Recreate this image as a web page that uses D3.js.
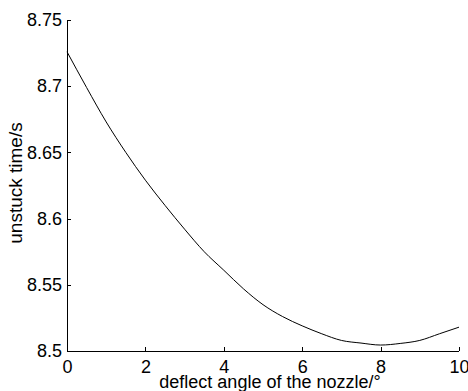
<!DOCTYPE html>
<html>
<head>
<meta charset="utf-8">
<script src="https://cdn.jsdelivr.net/npm/d3@7"></script>
<style>
  body { margin: 0; background: #fff; }
  svg { display: block; font-family: "Liberation Sans", Arial, sans-serif; }
</style>
</head>
<body>
<div id="chart"></div>
<script>
// deflect angle (deg) vs unstuck time (s)
const angles = [0, 0.5, 1, 1.5, 2, 2.5, 3, 3.5, 4, 4.5, 5, 5.5, 6, 6.5, 7, 7.5, 8, 8.5, 9, 9.5, 10];
const times = [8.726, 8.699, 8.673, 8.650, 8.629, 8.610, 8.592, 8.575, 8.561, 8.547, 8.535,
               8.526, 8.519, 8.513, 8.508, 8.506, 8.5045, 8.5057, 8.508, 8.513, 8.518];
const xTicks = [0, 2, 4, 6, 8, 10];
const yTicks = [8.5, 8.55, 8.6, 8.65, 8.7, 8.75];

const width = 468, height = 391;
const margin = {top: 20, right: 9, bottom: 40, left: 67};

const svg = d3.select("#chart").append("svg")
    .attr("width", width)
    .attr("height", height);

const x = d3.scaleLinear().domain([0, 10]).range([margin.left, width - margin.right]);
const y = d3.scaleLinear().domain([8.5, 8.75]).range([height - margin.bottom, margin.top]);

// y axis, ticks point inward
const yAxis = svg.append("g")
    .attr("transform", `translate(${margin.left},0)`)
    .call(d3.axisLeft(y).tickValues(yTicks).tickSize(-4).tickPadding(5)
        .tickFormat(d => d3.format("")(+d.toFixed(2))));
yAxis.select(".domain").attr("d", `M0,${y(8.5)}V${y(8.75)}`);
yAxis.selectAll("text").style("font-size", "18px").attr("fill", "#000");

// x axis
const xAxis = svg.append("g")
    .attr("transform", `translate(0,${height - margin.bottom})`)
    .call(d3.axisBottom(x).tickValues(xTicks).tickSize(-4).tickPadding(9));
xAxis.select(".domain").attr("d", `M${x(0)},0H${x(10)}`);
xAxis.selectAll("text").style("font-size", "18px").attr("fill", "#000");

svg.selectAll(".domain, .tick line")
    .attr("stroke", "#000")
    .attr("shape-rendering", "crispEdges");

const line = d3.line()
    .x((d, i) => x(angles[i]))
    .y(d => y(d))
    .curve(d3.curveMonotoneX);

svg.append("path")
    .datum(times)
    .attr("fill", "none")
    .attr("stroke", "#000")
    .attr("stroke-width", 1)
    .attr("d", line);

// axis titles
svg.append("text")
    .attr("x", 270)
    .attr("y", 388)
    .attr("text-anchor", "middle")
    .style("font-size", "18px")
    .text("deflect angle of the nozzle/°");

svg.append("text")
    .attr("transform", "translate(22,183) rotate(-90)")
    .attr("text-anchor", "middle")
    .style("font-size", "19px")
    .text("unstuck time/s");
</script>
</body>
</html>
